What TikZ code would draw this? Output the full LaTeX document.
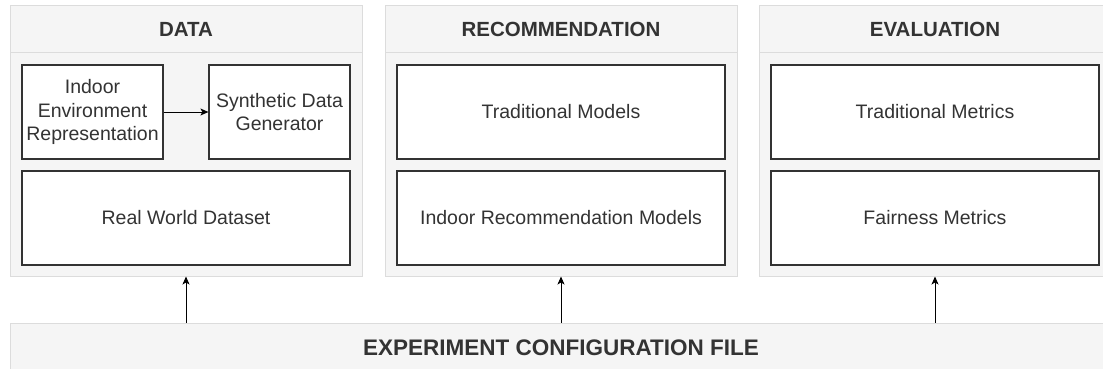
\documentclass[tikz,border=0pt]{standalone}
\usepackage{fontspec}
\setmainfont{Liberation Sans}
\usetikzlibrary{arrows.meta}
\definecolor{panelfill}{HTML}{F5F5F5}
\definecolor{panelline}{HTML}{DCDCDC}
\definecolor{ink}{HTML}{333333}
\begin{document}
\begin{tikzpicture}[x=1pt,y=-1pt,
  panel/.style={draw=panelline,fill=panelfill,line width=1pt,minimum width=352pt,minimum height=270pt,inner sep=0pt},
  header/.style={draw=panelline,fill=panelfill,line width=1pt,minimum width=352pt,minimum height=47pt,inner sep=0pt,
    text=ink,font=\fontsize{20.5}{24}\selectfont\bfseries},
  box/.style={draw=ink,fill=white,line width=1.2pt,minimum height=94pt,inner sep=0pt,align=center,
    text=ink,font=\fontsize{19.5}{23.5}\selectfont},
  wide/.style={box,minimum width=328pt},
  half/.style={box,minimum width=141pt},
  tip/.style={-{Stealth[length=8pt,width=7pt,inset=2pt]}},
  feed/.style={draw=black,line width=1pt,tip},
  link/.style={draw=black,line width=1pt,tip}]
\useasboundingbox (0,0) rectangle (1103,369);
\clip (0,0) rectangle (1103,369);

% three stage panels
\node[panel] (pdata) at (186,141) {};
\node[header] (hdata) at (186,29.5) {DATA};
\node[panel] (prec) at (561,141) {};
\node[header] (hrec) at (561,29.5) {RECOMMENDATION};
\node[panel] (peval) at (935,141) {};
\node[header] (heval) at (935,29.5) {EVALUATION};

% data stage
\node[half] (indoor) at (92.5,112) {Indoor\\Environment\\Representation};
\node[half] (synth) at (279.5,112) {Synthetic Data\\Generator};
\node[wide] (real) at (186,218) {Real World Dataset};
\draw[link] (indoor.east) -- (synth.west);

% recommendation stage
\node[wide] (tradmod) at (561,112) {Traditional Models};
\node[wide] (indoormod) at (561,218) {Indoor Recommendation Models};

% evaluation stage
\node[wide] (tradmet) at (935,112) {Traditional Metrics};
\node[wide] (fairmet) at (935,218) {Fairness Metrics};

% configuration file feeding every stage
\node[draw=panelline,fill=panelfill,line width=1pt,minimum width=1102pt,minimum height=50pt,inner sep=0pt,
  text=ink,font=\fontsize{22.5}{26}\selectfont\bfseries] (config) at (561,348) {EXPERIMENT CONFIGURATION FILE};
\draw[feed] (config.north -| pdata.south) -- (pdata.south);
\draw[feed] (config.north -| prec.south) -- (prec.south);
\draw[feed] (config.north -| peval.south) -- (peval.south);
\end{tikzpicture}
\end{document}
